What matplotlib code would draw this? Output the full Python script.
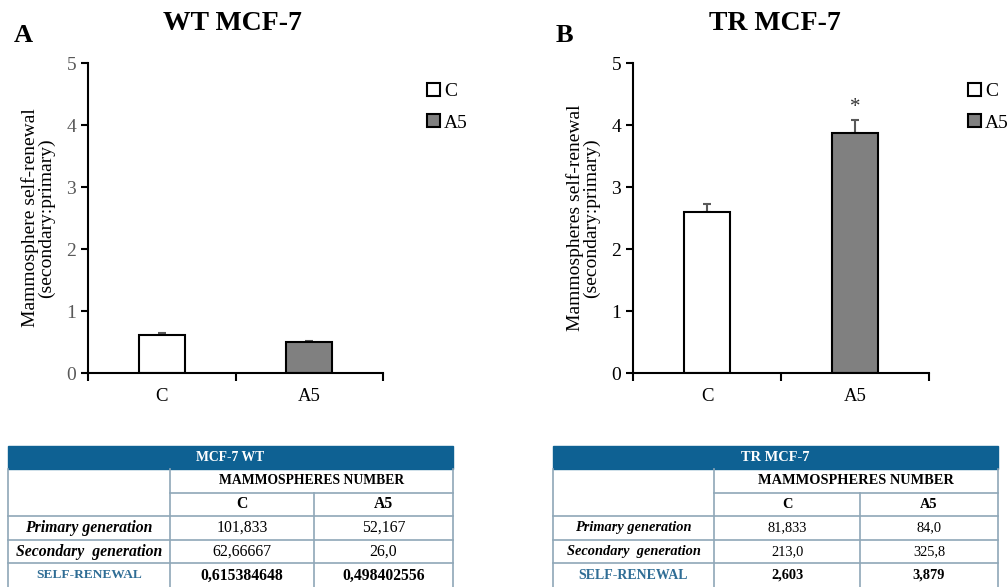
import matplotlib
matplotlib.use("Agg")

import matplotlib.pyplot as plt
from matplotlib.patches import Rectangle

# chart data
groups = ["C", "A5"]
wt_means = [0.615, 0.498]
wt_err = [0.025, 0.02]
tr_means = [2.603, 3.879]
tr_err = [0.12, 0.20]
tr_signif = ["", "*"]

# table data
wt_primary = ["101,833", "52,167"]
wt_secondary = ["62,66667", "26,0"]
wt_renewal = ["0,615384648", "0,498402556"]
tr_primary = ["81,833", "84,0"]
tr_secondary = ["213,0", "325,8"]
tr_renewal = ["2,603", "3,879"]

W, H = 1008, 587
fig = plt.figure(figsize=(W / 100, H / 100), dpi=100)
serif = ["Liberation Serif", "DejaVu Serif"]
bar_colors = ["white", "#808080"]


def px_axes(x0, y0, x1, y1):
    return fig.add_axes([x0 / W, 1 - y1 / H, (x1 - x0) / W, (y1 - y0) / H])


def bar_panel(ax, means, err, ylabel, tick_color, leg_x, signif=None):
    x = range(len(groups))
    ax.bar(x, means, width=0.31, color=bar_colors, edgecolor="black", linewidth=1.5, zorder=2)
    ax.errorbar(x, means, yerr=[[0] * len(err), err], fmt="none", ecolor="#595959",
                elinewidth=1.5, capsize=3, capthick=1.5, zorder=1)
    if signif:
        for i, s in enumerate(signif):
            if s:
                ax.annotate(s, (i, means[i] + err[i]), xytext=(0, 2), textcoords="offset points",
                            ha="center", va="bottom", fontsize=15, family=serif, color="#333333")
    ax.set_xlim(-0.5, 1.5)
    ax.set_ylim(0, 5)
    ax.set_yticks(range(6))
    ax.set_xticks([-0.5, 0.5, 1.5])
    ax.set_xticklabels([])
    ax.set_xticks(list(x), minor=True)
    ax.set_xticklabels(groups, minor=True, family=serif, fontsize=13.5)
    ax.tick_params(axis="x", which="minor", length=0, pad=11)
    ax.tick_params(axis="x", which="major", length=6, width=1.5, direction="out")
    ax.tick_params(axis="y", length=5, width=1.5, direction="out", labelsize=14,
                   labelcolor=tick_color)
    for lab in ax.get_yticklabels():
        lab.set_family(serif)
    for side in ["top", "right"]:
        ax.spines[side].set_visible(False)
    for side in ["left", "bottom"]:
        ax.spines[side].set_linewidth(1.5)
    ax.set_ylabel(ylabel, family=serif, fontsize=14, linespacing=0.95, labelpad=8)
    h = [Rectangle((0, 0), 1, 1, facecolor=c, edgecolor="black", linewidth=1.5) for c in bar_colors]
    ax.legend(h, groups, loc="upper left", bbox_to_anchor=(leg_x, 0.937), frameon=False,
              borderpad=0, borderaxespad=0,
              handlelength=0.65, handleheight=0.65, handletextpad=0.2, labelspacing=0.75,
              prop={"family": serif, "size": 14})


axA = px_axes(88, 63, 383, 373)
bar_panel(axA, wt_means, wt_err, "Mammosphere self-renewal\n(secondary:primary)", "#595959", 1.15)
axB = px_axes(633, 63, 929, 373)
bar_panel(axB, tr_means, tr_err, "Mammospheres self-renewal\n(secondary:primary)", "black", 1.133,
          tr_signif)

fig.text(232 / W, 1 - 24 / H, "WT MCF-7", ha="center", va="center", family=serif,
         fontsize=20, weight="bold")
fig.text(775 / W, 1 - 24 / H, "TR MCF-7", ha="center", va="center", family=serif,
         fontsize=20, weight="bold")
fig.text(14 / W, 1 - 35 / H, "A", ha="left", va="center", family=serif, fontsize=19, weight="bold")
fig.text(556 / W, 1 - 35 / H, "B", ha="left", va="center", family=serif, fontsize=19, weight="bold")

# tables
tab = fig.add_axes([0, 0, 1, 1])
tab.set_xlim(0, W)
tab.set_ylim(H, 0)
tab.axis("off")
blue = "#0e6193"
line_c = "#8fa7b8"
rows_y = [446, 469, 493, 516, 540, 563, 590]


def draw_table(x0, c1, c2, x1, title, prim, sec, ren, caps_fs, fs, ren_fs):
    tab.add_patch(Rectangle((x0, rows_y[0]), x1 - x0, rows_y[1] - rows_y[0], color=blue))
    tab.text((x0 + x1) / 2, (rows_y[0] + rows_y[1]) / 2, title, ha="center", va="center",
             color="white", weight="bold", fontsize=caps_fs, family=serif)
    kw = dict(color=line_c, lw=1.2)
    tab.plot([x0, x0], [rows_y[1], H + 5], **kw)
    tab.plot([x1, x1], [rows_y[1], H + 5], **kw)
    tab.plot([c1, c1], [rows_y[1], H + 5], **kw)
    tab.plot([c2, c2], [rows_y[2], H + 5], **kw)
    tab.plot([c1, x1], [rows_y[2], rows_y[2]], **kw)
    for y in rows_y[3:6]:
        tab.plot([x0, x1], [y, y], **kw)

    def cy(i):
        return (rows_y[i] + rows_y[i + 1]) / 2

    tab.text((c1 + x1) / 2, cy(1), "MAMMOSPHERES NUMBER", ha="center", va="center",
             weight="bold", fontsize=caps_fs, family=serif)
    for j, g in enumerate(groups):
        cx = [(c1 + c2) / 2, (c2 + x1) / 2][j]
        tab.text(cx, cy(2), g, ha="center", va="center", weight="bold", fontsize=fs, family=serif)
        tab.text(cx, cy(3), prim[j], ha="center", va="center", fontsize=fs, family=serif)
        tab.text(cx, cy(4), sec[j], ha="center", va="center", fontsize=fs, family=serif)
        tab.text(cx, cy(5) - 1, ren[j], ha="center", va="center", weight="bold", fontsize=fs,
                 family=serif)
    mid = (x0 + c1) / 2
    tab.text(mid, cy(3), "Primary generation", ha="center", va="center", weight="bold",
             style="italic", fontsize=fs, family=serif)
    tab.text(mid, cy(4), "Secondary  generation", ha="center", va="center", weight="bold",
             style="italic", fontsize=fs, family=serif)
    tab.text(mid, cy(5) - 1, "SELF-RENEWAL", ha="center", va="center", weight="bold",
             fontsize=ren_fs, color="#2f6d95", family=serif)


draw_table(8, 170, 314, 453, "MCF-7 WT", wt_primary, wt_secondary, wt_renewal, 9.8, 11.3, 9.6)
draw_table(553, 714, 860, 998, "TR MCF-7", tr_primary, tr_secondary, tr_renewal, 10.4, 10.4, 10)

out = "out.png"
fig.savefig(out, dpi=100)
print(f"Saved {out}")
